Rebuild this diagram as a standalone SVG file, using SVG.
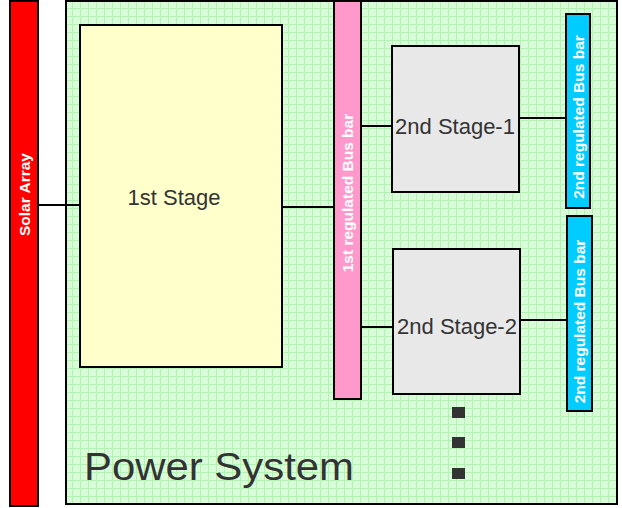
<svg xmlns="http://www.w3.org/2000/svg" width="622" height="508" viewBox="0 0 622 508">
<style>
.box{stroke:#000;stroke-width:2}
.lbl{font-family:"Liberation Sans",Arial,sans-serif;font-size:22px;fill:#333;text-anchor:middle}
.bar{font-family:"Liberation Sans",Arial,sans-serif;font-size:15.5px;font-weight:bold;fill:#fff;text-anchor:middle}
.conn line{stroke:#000;stroke-width:2}
</style>
<defs>
<pattern id="grid" width="8" height="8" patternUnits="userSpaceOnUse">
<rect width="8" height="8" fill="#d8fcd8"/>
<path d="M0 0.5H8M0.5 0V8" stroke="#b2f2b2" stroke-width="1"/>
</pattern>
</defs>
<rect width="622" height="508" fill="#fff"/>
<g id="power-system">
<rect class="box" x="66" y="1" width="551" height="503" fill="url(#grid)"/>
<text x="84" y="480" font-family="'Liberation Sans',Arial,sans-serif" font-size="39" fill="#333" textLength="270" lengthAdjust="spacingAndGlyphs">Power System</text>
</g>
<g id="solar-array">
<rect class="box" x="10" y="1" width="28" height="505" fill="#ff0000"/>
<text class="bar" transform="translate(24,194.5) rotate(-90)" y="5.5">Solar Array</text>
</g>
<g id="stage1">
<rect class="box" x="80" y="25" width="202" height="342" fill="#ffffcc"/>
<text class="lbl" x="174" y="205">1st Stage</text>
</g>
<g id="bus1">
<rect class="box" x="334" y="1" width="27" height="398" fill="#ff99cc"/>
<text class="bar" transform="translate(347,193) rotate(-90)" y="5.5">1st regulated Bus bar</text>
</g>
<g id="stage2-1">
<rect class="box" x="392" y="46" width="127" height="146" fill="#e8e8e8"/>
<text class="lbl" x="455" y="134">2nd Stage-1</text>
</g>
<g id="stage2-2">
<rect class="box" x="393" y="249" width="127" height="145" fill="#e8e8e8"/>
<text class="lbl" x="457" y="334">2nd Stage-2</text>
</g>
<g id="bus2-1">
<rect class="box" x="566" y="14" width="24" height="194" fill="#00ccff"/>
<text class="bar" transform="translate(578,117) rotate(-90)" y="5.5">2nd regulated Bus bar</text>
</g>
<g id="bus2-2">
<rect class="box" x="567" y="216" width="25" height="195" fill="#00ccff"/>
<text class="bar" transform="translate(579.5,321.5) rotate(-90)" y="5.5">2nd regulated Bus bar</text>
</g>
<g id="ellipsis" fill="#333">
<rect x="452" y="407" width="13" height="11"/>
<rect x="452" y="437" width="13" height="11"/>
<rect x="452" y="468" width="13" height="11"/>
</g>
<g class="conn" id="connectors">
<line x1="38" y1="205" x2="80" y2="205"/>
<line x1="282" y1="207" x2="334" y2="207"/>
<line x1="361" y1="126" x2="392" y2="126"/>
<line x1="519" y1="118" x2="566" y2="118"/>
<line x1="361" y1="327" x2="393" y2="327"/>
<line x1="520" y1="320" x2="567" y2="320"/>
</g>
</svg>
